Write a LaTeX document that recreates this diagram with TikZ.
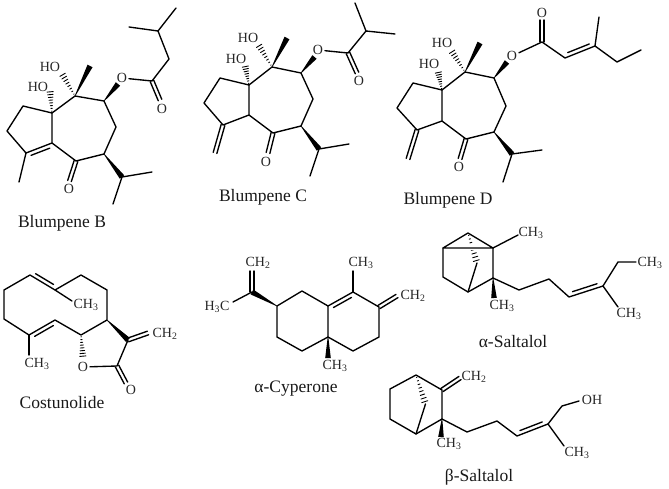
\documentclass[tikz,border=0pt]{standalone}
\usepackage{fontspec}
\setmainfont{Liberation Serif}
\usetikzlibrary{calc}
\newcommand\wdg[2]{\fill ($(#1)!0.3pt!90:(#2)$) -- ($(#1)!0.3pt!-90:(#2)$) -- ($(#2)!2.8pt!90:(#1)$) -- ($(#2)!2.8pt!-90:(#1)$) -- cycle;}
\newcommand\hsh[2]{\foreach \t in {0.08,0.2,0.32,0.44,0.56,0.68,0.8,0.92}{%
  \coordinate (hp) at ($(#1)!\t!(#2)$);
  \draw[line width=.9pt] ($(hp)!{\t*3.4pt}!90:(#2)$) -- ($(hp)!{\t*3.4pt}!-90:(#2)$);}}
\newcommand\dbs[3]{\draw ($($(#1)!.14!(#2)$)!#3!90:(#2)$) -- ($($(#2)!.14!(#1)$)!#3!-90:(#1)$);}
\newcommand\dbc[2]{\draw ($(#1)!1.9pt!90:(#2)$) -- ($(#2)!1.9pt!-90:(#1)$);\draw ($(#1)!-1.9pt!90:(#2)$) -- ($(#2)!-1.9pt!-90:(#1)$);}
\tikzset{
  bond/.style={line width=1.35pt,line cap=round,line join=round},
  atomlabel/.style={font=\fontsize{14}{16}\selectfont,inner sep=1.2pt,text=black!85},
  caption/.style={font=\fontsize{17.5}{20}\selectfont,inner sep=0pt,text=black!90},
}
\begin{document}
\begin{tikzpicture}[x=1pt,y=-1pt,bond]
\useasboundingbox (0,0) rectangle (669,489);
% ---------- Blumpene B
\foreach \n/\x/\y in {a/52/113,b/75/96,c/104/101,d/116/127,e/104/154,f/76/161,g/52/143,h/26/153,i/7/131,j/23/106,me/19/182,ip/122/177,ipa/152/172,ipb/113/204,mew/90/66,ho1/61.5/73,ho2/50/90,ow/118/84,est/152/81,ch/169/59,cm/158/31,cma/129/27,cmb/176/8,oc/69.5/181,od/160/100}{\coordinate (b\n) at (\x,\y);}
\node[atomlabel] (bOH1) at (50,67) {HO};
\node[atomlabel] (bOH2) at (38,87) {HO};
\node[atomlabel] (bO1) at (122,78) {O};
\node[atomlabel] (bO2) at (162,109) {O};
\node[atomlabel] (bO3) at (69,189) {O};
\node[caption] (bCap) at (62,223) {Blumpene B};
\draw (ba)--(bb)--(bc)--(bd)--(be)--(bf)--(bg)--(ba)--(bj)--(bi)--(bh)--(bg);
\dbs{bg}{bh}{4pt}
\draw (bh)--(bme);
\dbc{bf}{boc}
\wdg{be}{bip}
\draw (bipa)--(bip)--(bipb);
\wdg{bb}{bmew}
\hsh{bb}{bho1}
\hsh{ba}{bho2}
\wdg{bc}{bow}
\draw (bO1)--(best)--(bch)--(bcm)--(bcma);
\draw (bcm)--(bcmb);
\dbc{best}{bod}
% ---------- Blumpene C
\foreach \n/\x/\y in {a/249/85,b/272/67,c/301/73,d/313/99,e/301/126,f/273/133,g/249/115,h/223/125,i/204/103,j/220/78,mt/215/153,ip/319/149,ipa/349/144,ipb/310/176,mew/287/38,ho1/258/44,ho2/245/65,ow/314.5/57,est/348/53,cm/366/31,cma/395/34,cmb/355/3,oc/268/153,od/357/73}{\coordinate (c\n) at (\x,\y);}
\node[atomlabel] (cOH1) at (248,38) {HO};
\node[atomlabel] (cOH2) at (236,59) {HO};
\node[atomlabel] (cO1) at (318,50) {O};
\node[atomlabel] (cO2) at (359,81) {O};
\node[atomlabel] (cO3) at (266,162) {O};
\node[caption] (cCap) at (263,197) {Blumpene C};
\draw (ca)--(cb)--(cc)--(cd)--(ce)--(cf)--(cg)--(ca)--(cj)--(ci)--(ch)--(cg);
\dbc{ch}{cmt}
\dbc{cf}{coc}
\wdg{ce}{cip}
\draw (cipa)--(cip)--(cipb);
\wdg{cb}{cmew}
\hsh{cb}{cho1}
\hsh{ca}{cho2}
\wdg{cc}{cow}
\draw (cO1)--(cest)--(ccm)--(ccma);
\draw (ccm)--(ccmb);
\dbc{cest}{cod}
% ---------- Blumpene D
\foreach \n/\x/\y in {a/442/90,b/465/72,c/494/78,d/506/106,e/494/132,f/466/139,g/442/121,h/417/130,i/397/108,j/413/83,mt/408/159,ip/512/154,ipa/542/150,ipb/503/182,mew/480/43,ho1/451/50,ho2/438/71,ow/507/62,est/542/42,oc/460/159,od/542/20,ene/565/58,cq/595/46,cme/599/17,cet/617/62,cte/641/50}{\coordinate (d\n) at (\x,\y);}
\node[atomlabel] (dOH1) at (442,43) {HO};
\node[atomlabel] (dOH2) at (429,64) {HO};
\node[atomlabel] (dO1) at (512,56) {O};
\node[atomlabel] (dO2) at (542,13) {O};
\node[atomlabel] (dO3) at (459,167) {O};
\node[caption] (dCap) at (448,200) {Blumpene D};
\draw (da)--(db)--(dc)--(dd)--(de)--(df)--(dg)--(da)--(dj)--(di)--(dh)--(dg);
\dbc{dh}{dmt}
\dbc{df}{doc}
\wdg{de}{dip}
\draw (dipa)--(dip)--(dipb);
\wdg{db}{dmew}
\hsh{db}{dho1}
\hsh{da}{dho2}
\wdg{dc}{dow}
\draw (dO1)--(dest)--(dene)--(dcq)--(dcet)--(dcte);
\draw (dcq)--(dcme);
\dbc{dest}{dod}
\dbs{dene}{dcq}{4pt}
% ---------- Costunolide
\foreach \n/\x/\y in {a/30/275,b/4/290,c/4/319,d/29/335,e/55/320,f/81/335,g/107/320,h/107/290,i/81/275,j/55/290,mea/72/301,meb/29/355,oh/83/358,lc/117/366,ly/128/340,ex/148/333,oc/126/383}{\coordinate (k\n) at (\x,\y);}
\node[atomlabel] (kM1) at (86,305) {CH\textsubscript{3}};
\node[atomlabel] (kM2) at (37,364) {CH\textsubscript{3}};
\node[atomlabel] (kM3) at (165,334) {CH\textsubscript{2}};
\node[atomlabel] (kO1) at (83,367) {O};
\node[atomlabel] (kO2) at (131,390) {O};
\node[caption] (kCap) at (62,403) {Costunolide};
\draw (kj)--(ka)--(kb)--(kc)--(kd)--(ke)--(kf)--(kg)--(kh)--(ki)--(kj);
\dbs{kj}{ka}{-4pt}
\dbs{kd}{ke}{-4pt}
\draw (kj)--(kmea);
\draw (kd)--(kmeb);
\hsh{kf}{koh}
\draw (kO1)--(klc)--(kly);
\wdg{kg}{kly}
\dbc{klc}{koc}
\dbc{kly}{kex}
% ---------- alpha-Cyperone
\foreach \n/\x/\y in {ip/252/292,dt/252/271,ml/233/302,a/277/306,b/302/291,c/328/306,d/328/337,e/302/351,f/277/337,g/353/292,h/379/307,i/379/337,j/353/351,mt/353/271,ex/397/296,mw/328/358}{\coordinate (y\n) at (\x,\y);}
\node[atomlabel] (yM1) at (258,263) {CH\textsubscript{2}};
\node[atomlabel] (yM2) at (217,307) {H\textsubscript{3}C};
\node[atomlabel] (yM3) at (361,263) {CH\textsubscript{3}};
\node[atomlabel] (yM4) at (413,296) {CH\textsubscript{2}};
\node[atomlabel] (yM5) at (335,366) {CH\textsubscript{3}};
\node[caption] (yCap) at (296,389) {α-Cyperone};
\draw (ya)--(yb)--(yc)--(yd)--(ye)--(yf)--(ya);
\draw (yc)--(yg)--(yh)--(yi)--(yj)--(yd);
\dbs{yc}{yg}{-4pt}
\draw (yg)--(ymt);
\dbc{yh}{yex}
\wdg{yd}{ymw}
\wdg{ya}{yip}
\dbc{yip}{ydt}
\draw (yip)--(yml);
% ---------- alpha-Saltalol
\foreach \n/\x/\y in {a/468/233,b/443/248,c/493/248,d/443/277,e/468/292,f/493/278,br/477/263,mc/518/235,mw/494/298,p/519/290,q/549/279,r/569/297,s/603/286,t/618/262,u/636/262,v/618/307}{\coordinate (s\n) at (\x,\y);}
\node[atomlabel] (sM1) at (531,233) {CH\textsubscript{3}};
\node[atomlabel] (sM2) at (502,306) {CH\textsubscript{3}};
\node[atomlabel] (sM3) at (650,263) {CH\textsubscript{3}};
\node[atomlabel] (sM4) at (629,314) {CH\textsubscript{3}};
\node[caption] (sCap) at (513,342) {α-Saltalol};
\hsh{sa}{sbr}
\fill[white] (450,244) rectangle (490,250);
\draw (sa)--(sb)--(sc)--(sa);
\draw (sb)--(sd)--(se)--(sf)--(sc);
\draw (se)--(sbr);
\draw (sc)--(smc);
\wdg{sf}{smw}
\draw (sf)--(sp)--(sq)--(sr)--(ss)--(st)--(su);
\draw (ss)--(sv);
\dbs{sr}{ss}{4pt}
% ---------- beta-Saltalol
\foreach \n/\x/\y in {a/416/375,b/390/389,c/390/419,d/416/434,e/442/419,f/442/390,br/425.5/404,ex/460/378,mw/441/437,p/467/432,q/497/421,r/517/436,s/548/424,t/562/406,u/579/401,v/564/446}{\coordinate (t\n) at (\x,\y);}
\node[atomlabel] (tM1) at (474,377) {CH\textsubscript{2}};
\node[atomlabel] (tM2) at (449,444) {CH\textsubscript{3}};
\node[atomlabel] (tM3) at (592,400) {OH};
\node[atomlabel] (tM4) at (577,453) {CH\textsubscript{3}};
\node[caption] (tCap) at (479,477) {β-Saltalol};
\draw (ta)--(tb)--(tc)--(td)--(te)--(tf)--(ta);
\hsh{ta}{tbr}
\draw (td)--(tbr);
\dbc{tf}{tex}
\wdg{te}{tmw}
\draw (te)--(tp)--(tq)--(tr)--(ts)--(tt)--(tu);
\draw (ts)--(tv);
\dbs{tr}{ts}{4pt}
\end{tikzpicture}
\end{document}
